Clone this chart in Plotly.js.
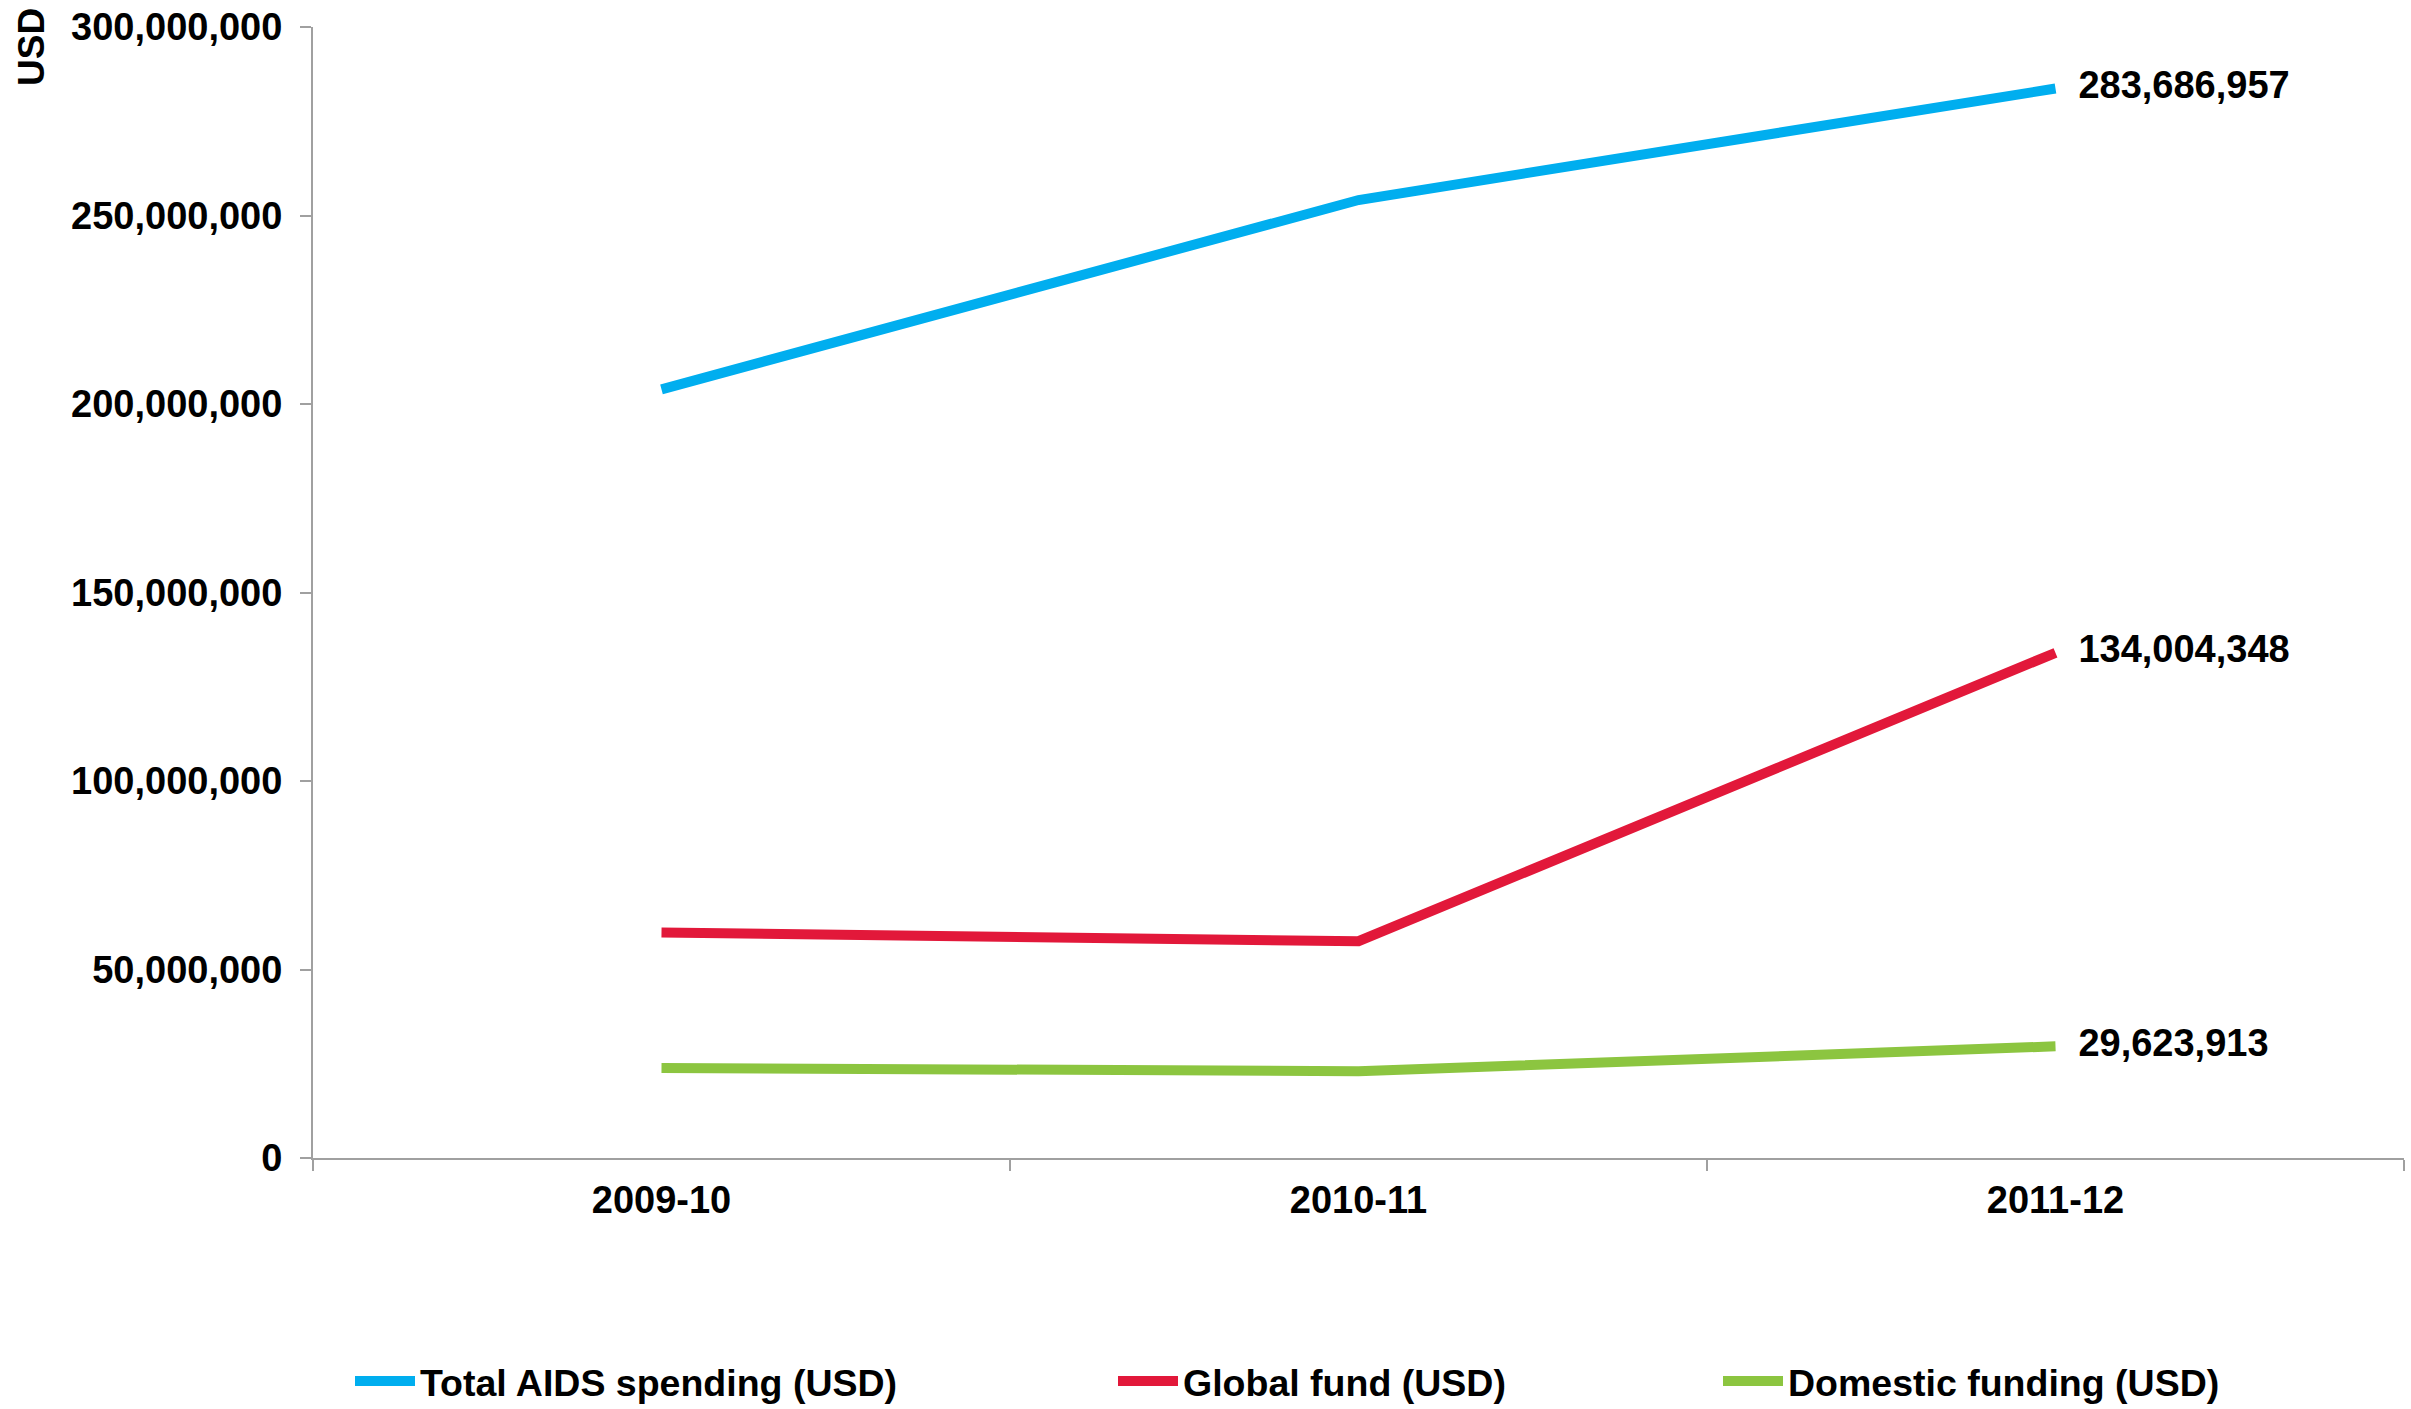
<!DOCTYPE html>
<html>
<head>
<meta charset="utf-8">
<script src="https://cdn.plot.ly/plotly-3.0.1.min.js"></script>
<style>
  html, body { margin: 0; padding: 0; background: #fff; }
  #chart { width: 2411px; height: 1409px; }
</style>
</head>
<body>
<div id="chart"></div>
<script>
// ---- data ----
const years = ['2009-10', '2010-11', '2011-12'];
const totalAids = [203900000, 254100000, 283686957];
const globalFund = [59800000, 57500000, 134004348];
const domestic = [23900000, 23000000, 29623913];
const seriesNames = ['Total AIDS spending (USD)', 'Global fund (USD)', 'Domestic funding (USD)'];
const yTickVals = [0, 50000000, 100000000, 150000000, 200000000, 250000000, 300000000];

const colors = ['#00AEEF', '#E2183A', '#8CC540'];
const font = '"Liberation Sans", Arial, sans-serif';

function lastLabel(arr) {
  return arr.map((v, i) => i === arr.length - 1 ? '%{y:,.0f}' : '');
}
function lastSize(arr) {
  return arr.map((v, i) => i === arr.length - 1 ? 35 : 0);
}

const seriesVals = [totalAids, globalFund, domestic];
const legendIds = ['legend', 'legend2', 'legend3'];

const traces = seriesVals.map((vals, k) => ({
  type: 'scatter',
  mode: 'lines+markers+text',
  x: years,
  y: vals,
  name: seriesNames[k],
  legend: legendIds[k],
  line: { color: colors[k], width: 10 },
  marker: { size: lastSize(vals), color: 'rgba(0,0,0,0)', line: { width: 0 } },
  texttemplate: lastLabel(vals),
  textposition: 'middle right',
  textfont: { family: font, size: 38, color: '#000', weight: 'bold' },
  cliponaxis: false,
  hoverinfo: 'x+y'
}));

const plotL = 313, plotR = 2404, plotT = 27, plotB = 1158;
const W = 2411, H = 1409;
const pw = plotR - plotL, ph = plotB - plotT;
const px = x => (x - plotL) / pw;
const py = y => (plotB - y) / ph;

const legendBase = {
  orientation: 'h',
  xanchor: 'left',
  yanchor: 'middle',
  yref: 'container',
  y: (H - 1381) / H,
  bgcolor: 'rgba(0,0,0,0)',
  font: { family: font, size: 37.5, color: '#000', weight: 'bold' },
  itemwidth: 60
};

const layout = {
  width: W,
  height: H,
  paper_bgcolor: '#fff',
  plot_bgcolor: '#fff',
  margin: { l: plotL, r: W - plotR, t: plotT, b: H - plotB, pad: 0, autoexpand: false },
  showlegend: true,
  xaxis: {
    type: 'category',
    range: [-0.5, 2.5],
    tickson: 'boundaries',
    ticks: 'outside',
    ticklen: 11,
    tickwidth: 2,
    tickcolor: '#A0A0A0',
    showline: true,
    linecolor: '#A0A0A0',
    linewidth: 2,
    showgrid: false,
    zeroline: false,
    automargin: false,
    tickfont: { family: font, size: 38, color: '#000', weight: 'bold' },
    ticklabelstandoff: 7
  },
  yaxis: {
    range: [0, 300000000],
    tickvals: yTickVals,
    tickformat: ',d',
    ticks: 'outside',
    ticklen: 11,
    tickwidth: 2,
    tickcolor: '#A0A0A0',
    showline: true,
    linecolor: '#A0A0A0',
    linewidth: 2,
    showgrid: false,
    zeroline: false,
    automargin: false,
    tickfont: { family: font, size: 38, color: '#000', weight: 'bold' },
    ticklabelstandoff: 10
  },
  legend: Object.assign({}, legendBase, { x: px(350) }),
  legend2: Object.assign({}, legendBase, { x: px(1113) }),
  legend3: Object.assign({}, legendBase, { x: px(1718) }),
  annotations: [{
    text: 'USD',
    xref: 'paper', yref: 'paper',
    x: px(32), y: py(47),
    xanchor: 'center', yanchor: 'middle',
    textangle: -90,
    showarrow: false,
    font: { family: font, size: 37, color: '#000', weight: 'bold' }
  }]
};

Plotly.newPlot('chart', traces, layout, { displayModeBar: false, responsive: false });
</script>
</body>
</html>
